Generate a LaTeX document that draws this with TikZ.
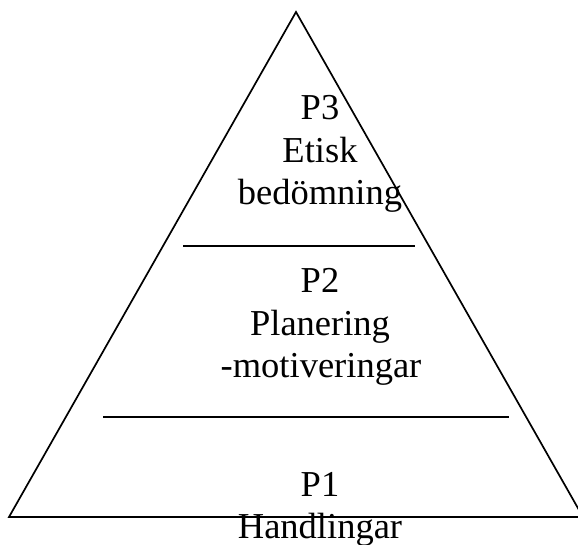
\documentclass[tikz,border=0pt]{standalone}
\usepackage{fontspec}
\setmainfont{Liberation Serif}
\begin{document}
\begin{tikzpicture}[x=1pt,y=-1pt,
  edge/.style={line width=1.7pt,line join=miter},
  txt/.style={anchor=base,inner sep=0pt,font=\fontsize{36.5}{42}\selectfont}]
\useasboundingbox (0,0) rectangle (578,545);
\begin{scope}
\clip (0,0) rectangle (578,545);
\coordinate (apex) at (296,12);
\coordinate (bl) at (9,517);
\coordinate (br) at (583,517);
\draw[edge] (bl) -- (apex) -- (br) -- cycle;
\coordinate (l1a) at (183,246);
\coordinate (l1b) at (415,246);
\coordinate (l2a) at (103,417);
\coordinate (l2b) at (509,417);
\draw[edge] (l1a) -- (l1b);
\draw[edge] (l2a) -- (l2b);
\node[txt] (p3) at (320,120) {P3};
\node[txt] (p3a) at (320,163) {Etisk};
\node[txt] (p3b) at (320,205) {bedömning};
\node[txt] (p2) at (320,292) {P2};
\node[txt] (p2a) at (320,335) {Planering};
\node[txt] (p2b) at (321,377) {-motiveringar};
\node[txt] (p1) at (320,496) {P1};
\node[txt] (p1a) at (320,538) {Handlingar};
\end{scope}
\end{tikzpicture}
\end{document}
